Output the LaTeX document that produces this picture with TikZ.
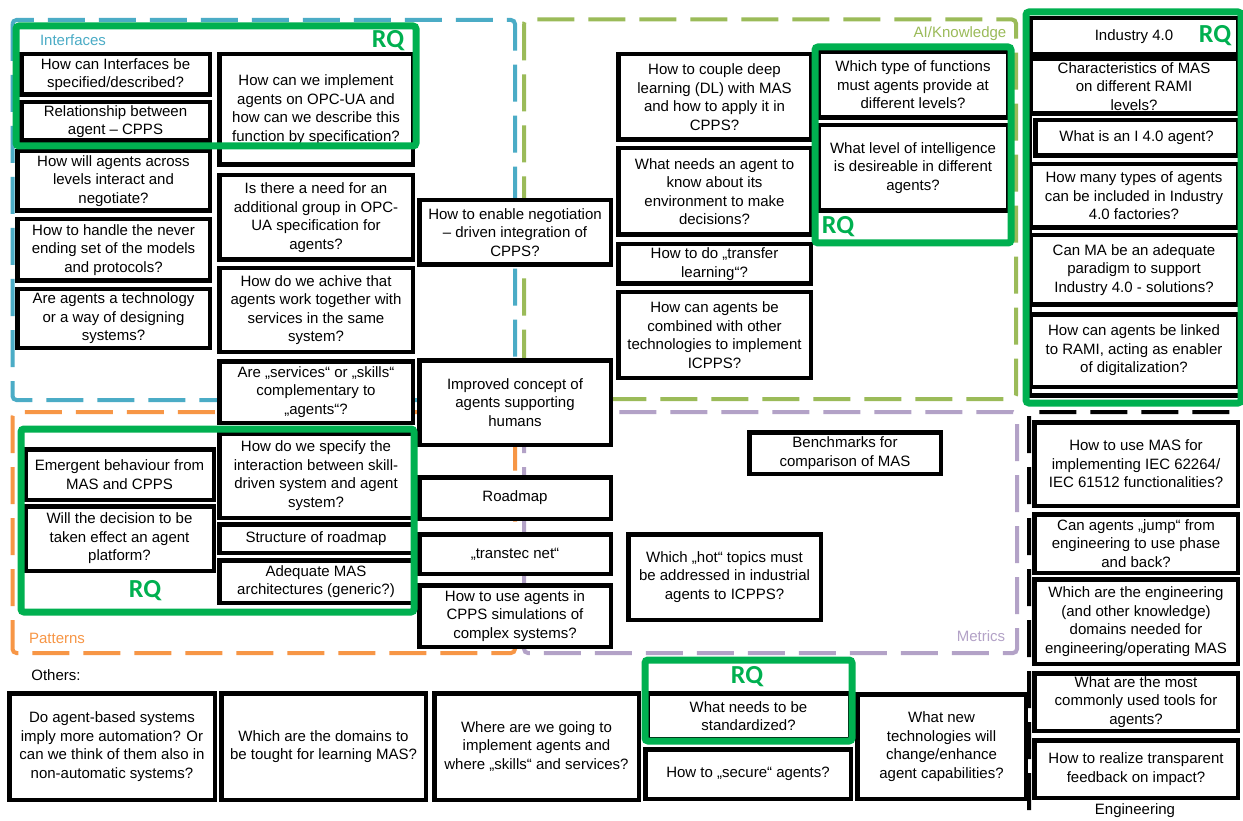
\documentclass[tikz,border=0pt]{standalone}
\usepackage{fontspec}
\setmainfont{Liberation Sans}
\newfontfamily\rqfont{Carlito}
\definecolor{ifblue}{HTML}{4BACC6}
\definecolor{aiolive}{HTML}{9BBB59}
\definecolor{patorange}{HTML}{F79646}
\definecolor{metpurple}{HTML}{B3A2C7}
\definecolor{rqgreen}{HTML}{00B050}
\newcommand\qfont{\fontsize{15}{18.5}\selectfont}
% question box given by its outer corners (x1,y1) and (x2,y2)
\newcommand\qbx[6]{%
  \node[qbox, minimum width={#4-#2-4.5}, minimum height={#5-#3-4.5}]
    (#1) at ({(#2+#4)/2},{(#3+#5)/2}) {#6};}
\tikzset{
  qbox/.style={draw=black, line width=4.5pt, fill=white, align=center,
    inner sep=1pt, font=\qfont, text=black},
  frame/.style={line width=4pt, rounded corners=4pt,
    dash pattern=on 37pt off 14pt},
  rqframe/.style={draw=rqgreen, line width=7pt, rounded corners=3pt},
  rqlabel/.style={font=\rqfont\bfseries\fontsize{26}{28}\selectfont,
    text=rqgreen, inner sep=0pt},
  arealabel/.style={font=\qfont, inner sep=0pt},
}
\begin{document}
\begin{tikzpicture}[x=1pt,y=-1pt]
\useasboundingbox (0,0) rectangle (1243,821);
\fill[white] (0,0) rectangle (1243,821);

% topic areas
\draw[frame, ifblue] (12.5,20) rectangle (515,400);
\draw[frame, aiolive] (524,19.5) rectangle (1016,399);
\draw[frame, patorange] (12.5,412) rectangle (515,653);
\draw[frame, metpurple] (524,412) rectangle (1017,653);
\draw[frame, black] (1029,412) rectangle (1262,845);

\node[arealabel, text=ifblue] (lblif) at (73,40) {Interfaces};
\node[arealabel, text=aiolive] (lblai) at (960,34) {AI/Knowledge};
\node[arealabel, text=patorange] (lblpat) at (57,638) {Patterns};
\node[arealabel, text=metpurple] (lblmet) at (981,636) {Metrics};
\node[arealabel] (lbloth) at (56,675) {Others:};
\node[arealabel] (lbleng) at (1135,811) {Engineering};

% Interfaces
\qbx{b1}{19}{52}{212}{97}{How can Interfaces be\\specified/described?}
\qbx{b2}{19}{100}{212}{143}{Relationship between\\agent – CPPS}
\qbx{b3}{15}{149}{212}{213}{How will agents across\\levels interact and\\negotiate?}
\qbx{b4}{15}{217}{212}{283}{How to handle the never\\ending set of the models\\and protocols?}
\qbx{b5}{15}{287}{212}{350}{Are agents a technology\\or a way of designing\\systems?}
\qbx{c1}{217}{52}{415}{167}{How can we implement\\agents on OPC-UA and\\how can we describe this\\function by specification?}
\qbx{c2}{217}{173}{415}{262}{Is there a need for an\\additional group in OPC-\\UA specification for\\agents?}
\qbx{c3}{217}{266}{415}{354}{How do we achive that\\agents work together with\\services in the same\\system?}
\qbx{c4}{217}{359}{415}{425}{Are „services“ or „skills“\\complementary to\\„agents“?}

% Patterns
\qbx{p1}{23}{447}{216}{502}{Emergent behaviour from\\MAS and CPPS}
\qbx{p2}{23}{504}{216}{573}{Will the decision to be\\taken effect an agent\\platform?}
\qbx{p3}{217}{431}{415}{520}{How do we specify the\\interaction between skill-\\driven system and agent\\system?}
\qbx{p4}{217}{522}{415}{555}{Structure of roadmap}
\qbx{p5}{217}{558}{415}{605}{Adequate MAS\\architectures (generic?)}

% middle column
\qbx{m1}{417}{198}{613}{267}{How to enable negotiation\\– driven integration of\\CPPS?}
\qbx{m2}{417}{358}{613}{447}{Improved concept of\\agents supporting\\humans}
\qbx{m3}{417}{475}{613}{521}{Roadmap}
\qbx{m4}{417}{532}{613}{576}{„transtec net“}
\qbx{m5}{417}{583}{613}{649}{How to use agents in\\CPPS simulations of\\complex systems?}

% AI / Knowledge
\qbx{a1}{616}{52}{813}{142}{How to couple deep\\learning (DL) with MAS\\and how to apply it in\\CPPS?}
\qbx{a2}{616}{146}{813}{237}{What needs an agent to\\know about its\\environment to make\\decisions?}
\qbx{a3}{616}{242}{813}{286}{How to do „transfer\\learning“?}
\qbx{a4}{616}{290}{813}{380}{How can agents be\\combined with other\\technologies to implement\\ICPPS?}
\qbx{r1}{816}{50}{1010}{120}{Which type of functions\\must agents provide at\\different levels?}
\qbx{r2}{816}{123}{1010}{213}{What level of intelligence\\is desireable in different\\agents?}

% Industry 4.0
\draw[black, line width=4.5pt] (1030,18) rectangle (1240,395.5);
\qbx{i1}{1028}{16}{1240}{57}{Industry 4.0}
\qbx{i2}{1028}{57}{1240}{116}{Characteristics of MAS\\on different RAMI\\levels?}
\qbx{i3}{1033}{118}{1240}{158}{What is an I 4.0 agent?}
\qbx{i4}{1028}{162}{1240}{230}{How many types of agents\\can be included in Industry\\4.0 factories?}
\qbx{i5}{1028}{233}{1240}{307}{Can MA be an adequate\\paradigm to support\\Industry 4.0 - solutions?}
\qbx{i6}{1028}{312}{1240}{389}{How can agents be linked\\to RAMI, acting as enabler\\of digitalization?}

% Metrics
\qbx{me1}{747}{430}{943}{476}{Benchmarks for\\comparison of MAS}
\qbx{me2}{626}{532}{823}{622}{Which „hot“ topics must\\be addressed in industrial\\agents to ICPPS?}

% Engineering
\qbx{e1}{1032}{420}{1240}{508}{How to use MAS for\\implementing IEC 62264/\\IEC 61512 functionalities?}
\qbx{e2}{1032}{512}{1240}{575}{Can agents „jump“ from\\engineering to use phase\\and back?}
\qbx{e3}{1032}{577}{1240}{666}{Which are the engineering\\(and other knowledge)\\domains needed for\\engineering/operating MAS}
\qbx{e4}{1032}{671}{1240}{733}{What are the most\\commonly used tools for\\agents?}
\qbx{e5}{1032}{738}{1240}{800}{How to realize transparent\\feedback on impact?}

% Others
\qbx{o1}{7}{691}{217}{802}{Do agent-based systems\\imply more automation? Or\\can we think of them also in\\non-automatic systems?}
\qbx{o2}{219}{691}{428}{802}{Which are the domains to\\be tought for learning MAS?}
\qbx{o3}{432}{691}{641}{802}{Where are we going to\\implement agents and\\where „skills“ and services?}
\qbx{o4}{645}{691}{852}{741}{What needs to be\\standardized?}
\qbx{o5}{643}{747}{853}{801}{How to „secure“ agents?}
\qbx{o6}{855}{692}{1028}{801}{What new\\technologies will\\change/enhance\\agent capabilities?}

% research question groups
\draw[rqframe] (16,26) rectangle (416,146);
\draw[rqframe] (815,47) rectangle (1011,243);
\draw[rqframe] (1026,12) rectangle (1241,403);
\draw[rqframe] (21,429) rectangle (414,612);
\draw[rqframe] (645,660) rectangle (852,741);

\node[rqlabel] (rq1) at (388,41) {RQ};
\node[rqlabel] (rq2) at (838,227) {RQ};
\node[rqlabel] (rq3) at (1215,36) {RQ};
\node[rqlabel] (rq4) at (145,591) {RQ};
\node[rqlabel] (rq5) at (747,677) {RQ};
\end{tikzpicture}
\end{document}
